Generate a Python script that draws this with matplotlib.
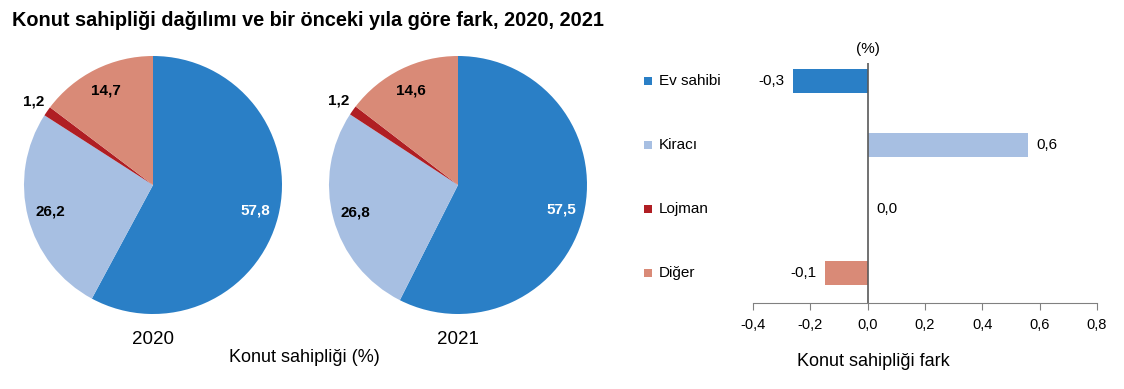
import matplotlib
matplotlib.use("Agg")
import matplotlib.pyplot as plt
import matplotlib.transforms as mtransforms
import numpy as np

plt.rcParams['font.family'] = ['Liberation Sans', 'DejaVu Sans']

categories = ["Ev sahibi", "Kiracı", "Lojman", "Diğer"]
colors = ["#2a7fc6", "#a7bfe2", "#b01e23", "#d98a77"]
share_2020 = [57.8, 26.2, 1.2, 14.7]
share_2021 = [57.5, 26.8, 1.2, 14.6]
labels_2020 = ["57,8", "26,2", "1,2", "14,7"]
labels_2021 = ["57,5", "26,8", "1,2", "14,6"]
years = ["2020", "2021"]
diff_values = [-0.26, 0.56, 0.0, -0.15]
diff_labels = ["-0,3", "0,6", "0,0", "-0,1"]
xticks = [-0.4, -0.2, 0.0, 0.2, 0.4, 0.6, 0.8]
xtick_labels = ["-0,4", "-0,2", "0,0", "0,2", "0,4", "0,6", "0,8"]

W, H = 1124, 389
fig = plt.figure(figsize=(W / 100, H / 100), dpi=100)

fig.text(12 / W, 1 - 21 / H, "Konut sahipliği dağılımı ve bir önceki yıla göre fark, 2020, 2021",
         fontsize=14.3, fontweight="bold", ha="left", va="center")

def pie_axes(cx, cy, r):
    return fig.add_axes([(cx - r) / W, 1 - (cy + r) / H, 2 * r / W, 2 * r / H])

for (cx, vals, labs, yr) in [(153, share_2020, labels_2020, years[0]),
                             (458, share_2021, labels_2021, years[1])]:
    ax = pie_axes(cx, 185, 129)
    wedges, _ = ax.pie(vals, colors=colors, startangle=90, counterclock=False,
                       radius=1.0, wedgeprops=dict(linewidth=0))
    for i, (w, lab) in enumerate(zip(wedges, labs)):
        ang = np.deg2rad((w.theta1 + w.theta2) / 2)
        d = 1.13 if i == 2 else 0.82
        ax.text(d * np.cos(ang), d * np.sin(ang), lab, ha="center", va="center",
                fontsize=11, fontweight="bold",
                color="white" if i == 0 else "black")
    ax.set_xlim(-1, 1)
    ax.set_ylim(-1, 1)
    ax.set_aspect("equal")
    ax.axis("off")
    fig.text(cx / W, 1 - 340 / H, yr, ha="center", va="center", fontsize=13.5)

fig.text(304 / W, 1 - 358 / H, "Konut sahipliği (%)", ha="center", va="center", fontsize=13)

# Bar chart
bx0, bx1, by0, by1 = 753, 1097, 63, 303
axb = fig.add_axes([bx0 / W, 1 - by1 / H, (bx1 - bx0) / W, (by1 - by0) / H])
y = np.arange(len(categories))
axb.barh(y, diff_values, height=0.375, color=colors)
axb.set_xlim(-0.4, 0.8)
axb.set_ylim(3.47, -0.28)
axb.axvline(0, color="#595959", linewidth=1.2)
for s in ["top", "right", "left"]:
    axb.spines[s].set_visible(False)
axb.spines["bottom"].set_color("#808080")
axb.set_yticks([])
axb.set_xticks(xticks)
axb.set_xticklabels(xtick_labels, fontsize=10.5)
axb.tick_params(axis="x", direction="out", length=5, color="#808080", pad=6)
for yi, v, lab in zip(y, diff_values, diff_labels):
    if v < 0:
        axb.text(v - 0.03, yi, lab, ha="right", va="center", fontsize=11)
    else:
        axb.text(v + 0.03, yi, lab, ha="left", va="center", fontsize=11)
axb.text(0, -0.28, "(%)", ha="center", va="bottom", fontsize=11,
         transform=mtransforms.offset_copy(axb.transData, fig=fig, y=5, units="points"))

blend = mtransforms.blended_transform_factory(fig.transFigure, axb.transData)
axb.scatter([648 / W] * len(categories), y, marker="s", s=28, color=colors,
            transform=blend, clip_on=False, linewidths=0)
for yi, c in zip(y, categories):
    axb.text(659 / W, yi, c, transform=blend, ha="left", va="center", fontsize=11)

fig.text(873 / W, 1 - 362 / H, "Konut sahipliği fark", ha="center", va="center", fontsize=13)

fig.savefig("out.png", dpi=100)
